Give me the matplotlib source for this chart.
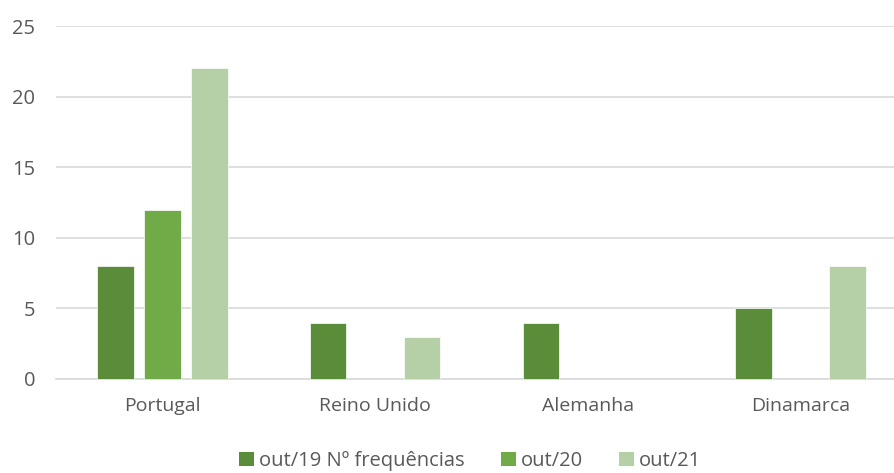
import matplotlib
matplotlib.use("Agg")
import matplotlib.pyplot as plt
import numpy as np
from matplotlib.patches import Patch

categories = ["Portugal", "Reino Unido", "Alemanha", "Dinamarca"]
series_names = ["out/19 Nº frequências", "out/20", "out/21"]
out19 = [8, 4, 4, 5]
out20 = [12, 0, 0, 0]
out21 = [22, 3, 0, 8]
colors = ["#5b8c3a", "#70ab47", "#b5cfa6"]

W, H = 895, 473
fig = plt.figure(figsize=(W / 100, H / 100), dpi=100)
left, right = 56, 907
bottom, top = 379, 26
ax = fig.add_axes([left / W, 1 - bottom / H, (right - left) / W, (bottom - top) / H])
ax.set_facecolor("none")

x = np.arange(len(categories))
bw = 0.172
step = 0.221
for i, (vals, c) in enumerate(zip([out19, out20, out21], colors)):
    ax.bar(x + (i - 1) * step, vals, width=bw, color=c, edgecolor="white", linewidth=0.5, zorder=3)

ax.set_xlim(-0.5, 3.5)
ax.set_ylim(0, 25)
ax.set_yticks(range(0, 26, 5))
ax.yaxis.grid(True, color="#d9d9d9", linewidth=1.2, zorder=0)
ax.set_axisbelow(True)
for s in ["top", "right", "left"]:
    ax.spines[s].set_visible(False)
ax.spines["bottom"].set_color("#d9d9d9")
ax.spines["bottom"].set_linewidth(1.2)
ax.tick_params(axis="both", length=0, labelsize=14, labelcolor="#595959")
ax.tick_params(axis="y", labelsize=14.5, pad=15)
ax.tick_params(axis="x", pad=13)
ax.set_xticks(x)
ax.set_xticklabels(categories, fontfamily="Open Sans")
for t in ax.get_yticklabels():
    t.set_fontfamily("Open Sans")

handles = [Patch(facecolor=c, edgecolor="none") for c in colors]
fig.legend(handles, series_names, loc="center", bbox_to_anchor=(470 / W, 1 - 461 / H),
           ncol=3, frameon=False, prop={"family": "Open Sans", "size": 14.5},
           handlelength=0.75, handleheight=0.75, handletextpad=0.25, columnspacing=1.8,
           labelcolor="#595959")

fig.savefig("out.png", dpi=100)
